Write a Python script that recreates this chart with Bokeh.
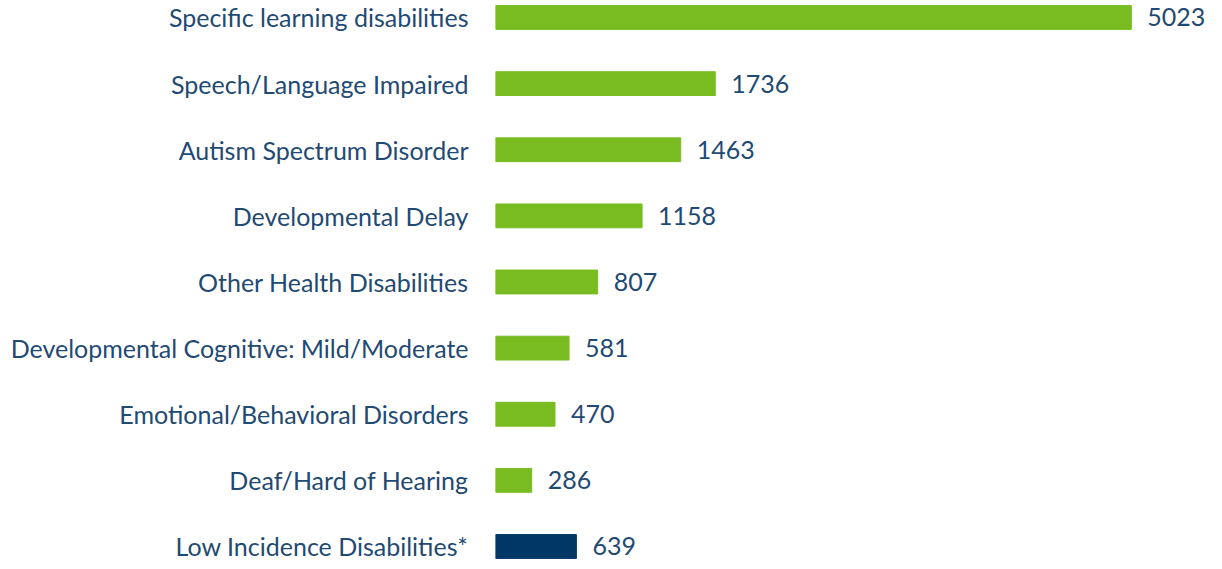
from bokeh.plotting import figure
from bokeh.models import Range1d, FixedTicker, ColumnDataSource
from bokeh.core.properties import value
from bokeh.embed import file_html
from bokeh.resources import INLINE

categories = [
    "Specific learning disabilities",
    "Speech/Language Impaired",
    "Autism Spectrum Disorder",
    "Developmental Delay",
    "Other Health Disabilities",
    "Developmental Cognitive: Mild/Moderate",
    "Emotional/Behavioral Disorders",
    "Deaf/Hard of Hearing",
    "Low Incidence Disabilities*",
]
counts = [5023, 1736, 1463, 1158, 807, 581, 470, 286, 639]
colors = ["#78bc22"] * 8 + ["#003764"]

TEXT = "#1f4a73"
FONT = "Lato"
FS = "25px"
n = len(categories)
ypos = [n - 1 - i for i in range(n)]

src = ColumnDataSource(dict(y=ypos, v=counts, c=colors,
                            lbl=[str(v) for v in counts]))

p = figure(width=1214, height=561, output_backend="svg", toolbar_location=None,
           x_range=Range1d(0, 5680), y_range=Range1d(-0.227, 8.257),
           min_border_left=495, min_border_right=0, min_border_top=0,
           min_border_bottom=0)
p.hbar(y="y", right="v", left=0, height=0.36, color="c", source=src)
p.text(x="v", y="y", text="lbl", source=src, x_offset=16,
       text_align="left", text_baseline="middle", text_color=TEXT,
       text_font=value(FONT), text_font_size=FS)

p.xaxis.visible = False
p.yaxis.ticker = FixedTicker(ticks=ypos)
p.yaxis.major_label_overrides = {y: c for y, c in zip(ypos, categories)}
p.yaxis.axis_line_color = None
p.yaxis.major_tick_line_color = None
p.yaxis.minor_tick_line_color = None
p.yaxis.major_label_standoff = 21
p.yaxis.major_label_text_font = FONT
p.yaxis.major_label_text_font_size = FS
p.yaxis.major_label_text_color = TEXT
p.xgrid.visible = False
p.ygrid.visible = False
p.outline_line_color = None

open("out.html", "w").write(file_html(p, INLINE))
